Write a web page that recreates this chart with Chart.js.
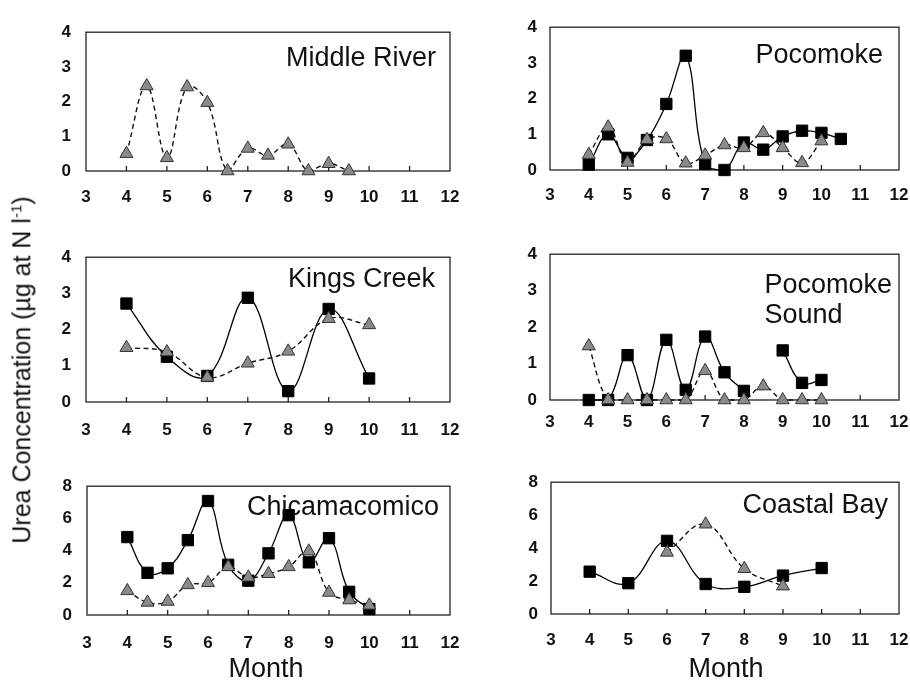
<!DOCTYPE html>
<html>
<head>
<meta charset="utf-8">
<script src="https://cdn.jsdelivr.net/npm/chart.js@4.4.0/dist/chart.umd.min.js"></script>
<style>
  body { margin: 0; background: #fff; font-family: "Liberation Sans", Arial, sans-serif; }
  #page { position: relative; width: 910px; height: 681px; overflow: hidden; }
  canvas { position: absolute; }
  .ytitle {
    position: absolute; left: 22px; top: 370px; white-space: nowrap;
    font-size: 25px; color: #111;
    transform: translate(-50%, -50%) rotate(-90deg);
  }
  .ytitle sup { font-size: 15px; }
  .month { position: absolute; font-size: 27px; color: #111; transform: translateX(-50%); top: 653px; }
</style>
</head>
<body>
<div id="page">
  <canvas id="middleRiver"></canvas>
  <canvas id="pocomoke"></canvas>
  <canvas id="kingsCreek"></canvas>
  <canvas id="pocomokeSound"></canvas>
  <canvas id="chicamacomico"></canvas>
  <canvas id="coastalBay"></canvas>
  <div class="ytitle">Urea Concentration (µg at N l<sup>-1</sup>)</div>
  <div class="month" style="left:266px">Month</div>
  <div class="month" style="left:726px">Month</div>
</div>
<script>
// months sampled (half-month steps)
var halfMonths = [4, 4.5, 5, 5.5, 6, 6.5, 7, 7.5, 8, 8.5, 9, 9.5, 10, 10.5];
var wholeMonths = [4, 5, 6, 7, 8, 9, 10];
var monthTicks = [3, 4, 5, 6, 7, 8, 9, 10, 11, 12];

// urea, square series (solid) and triangle series (dashed)
var middleRiverTri = [0.5, 2.45, 0.38, 2.42, 1.97, 0, 0.65, 0.45, 0.77, 0, 0.21, 0];

var pocomokeSq = [0.15, 1.0, 0.34, 0.84, 1.85, 3.2, 0.17, 0, 0.77, 0.57, 0.94, 1.1, 1.04, 0.87];
var pocomokeTri = [0.43, 1.2, 0.21, 0.85, 0.87, 0.19, 0.41, 0.7, 0.62, 1.04, 0.62, 0.2, 0.81];

var kingsCreekSq = [2.72, 1.25, 0.72, 2.88, 0.3, 2.57, 0.65];
var kingsCreekTri = [1.5, 1.38, 0.68, 1.07, 1.4, 2.3, 2.13];

var pocomokeSoundSq = [0, 0, 1.23, 0, 1.65, 0.28, 1.74, 0.76, 0.25, null, 1.36, 0.47, 0.55];
var pocomokeSoundTri = [1.48, 0, 0, 0, 0, 0, 0.8, 0, 0, 0.38, 0, 0, 0];

var chicamacomicoSq = [4.84, 2.62, 2.9, 4.65, 7.08, 3.12, 2.13, 3.83, 6.2, 3.27, 4.77, 1.44, 0.37];
var chicamacomicoTri = [1.5, 0.78, 0.84, 1.87, 2.0, 2.99, 2.34, 2.56, 2.99, 3.96, 1.4, 0.93, 0.6];

var coastalBaySq = [2.57, 1.87, 4.44, 1.82, 1.65, 2.33, 2.79];
var coastalBayTriMonths = [6, 7, 8, 9];
var coastalBayTri = [3.74, 5.45, 2.75, 1.69];

var FONT = '"Liberation Sans", Arial, sans-serif';

function pts(xs, ys) {
  return ys.map(function (y, i) { return {x: xs[i], y: y}; });
}

function squares(data) {
  return {
    data: data, borderColor: '#000', borderWidth: 1.3, tension: 0.4, clip: false,
    pointStyle: 'rect', pointRadius: 8, pointBackgroundColor: '#000',
    pointBorderColor: '#000', pointBorderWidth: 1, spanGaps: false
  };
}
function triangles(data) {
  return {
    data: data, borderColor: '#111', borderWidth: 1.4, borderDash: [5, 3.5], tension: 0.4, clip: false,
    pointStyle: 'triangle', pointRadius: 7.5, pointBackgroundColor: '#8a8a8a',
    pointBorderColor: '#333', pointBorderWidth: 1
  };
}

// frame, inward month ticks and station name
var panelDecor = {
  id: 'panelDecor',
  beforeDatasetsDraw: function (chart, args, opts) {
    var ctx = chart.ctx, a = chart.chartArea, x = chart.scales.x;
    ctx.save();
    ctx.strokeStyle = '#222';
    ctx.lineWidth = 1.3;
    ctx.strokeRect(a.left, a.top, a.right - a.left, a.bottom - a.top);
    for (var m = 4; m <= 11; m++) {
      var px = x.getPixelForValue(m);
      ctx.beginPath();
      ctx.moveTo(px, a.bottom);
      ctx.lineTo(px, a.bottom - 5);
      ctx.stroke();
    }
    ctx.fillStyle = '#111';
    ctx.font = '27px ' + FONT;
    ctx.textAlign = 'left';
    ctx.textBaseline = 'alphabetic';
    var lines = opts.name.split('\n');
    var w = Math.max.apply(null, lines.map(function (l) { return ctx.measureText(l).width; }));
    lines.forEach(function (l, i) {
      ctx.fillText(l, a.right - opts.right - w, a.top + opts.base + i * 30);
    });
    ctx.restore();
  }
};

function panel(id, area, ymax, ystep, datasets, name, nameRight, nameBase, xPad, yPad) {
  // right padding leaves room for the overhanging "12" label
  var YW = 60, XH = 40, PT = 10, PR = 34;
  var cv = document.getElementById(id);
  cv.style.left = (area[0] - YW) + 'px';
  cv.style.top = (area[1] - PT) + 'px';
  cv.width = area[2] - area[0] + YW + PR;
  cv.height = area[3] - area[1] + PT + XH;
  new Chart(cv, {
    type: 'line',
    data: {datasets: datasets},
    plugins: [panelDecor],
    options: {
      responsive: false,
      animation: false,
      layout: {padding: {left: 0, top: PT, right: PR, bottom: 0}},
      plugins: {
        legend: {display: false},
        tooltip: {enabled: false},
        panelDecor: {name: name, right: nameRight, base: nameBase}
      },
      scales: {
        x: {
          type: 'linear', min: 3, max: 12,
          afterFit: function (s) { s.height = XH; },
          afterBuildTicks: function (s) { s.ticks = monthTicks.map(function (v) { return {value: v}; }); },
          border: {display: false},
          grid: {display: false, drawTicks: false},
          ticks: {color: '#111', padding: xPad, maxRotation: 0, autoSkip: false,
                  font: {family: FONT, size: 17, weight: 'bold'}}
        },
        y: {
          min: 0, max: ymax,
          afterFit: function (s) { s.width = YW; },
          border: {display: false},
          grid: {display: false, drawTicks: false},
          ticks: {stepSize: ystep, color: '#111', padding: yPad,
                  font: {family: FONT, size: 17, weight: 'bold'}}
        }
      }
    }
  });
}

panel('middleRiver', [86, 17, 450, 171], 4, 1,
  [triangles(pts(halfMonths, middleRiverTri))],
  'Middle River', 14, 34, 16, 15);

panel('pocomoke', [550, 14, 899, 170], 4, 1,
  [triangles(pts(halfMonths, pocomokeTri)), squares(pts(halfMonths, pocomokeSq))],
  'Pocomoke', 16, 36, 15, 13);

panel('kingsCreek', [86, 242, 450, 402], 4, 1,
  [triangles(pts(wholeMonths, kingsCreekTri)), squares(pts(wholeMonths, kingsCreekSq))],
  'Kings Creek', 15, 30, 18, 15);

panel('pocomokeSound', [550, 241, 899, 400], 4, 1,
  [triangles(pts(halfMonths, pocomokeSoundTri)), squares(pts(halfMonths, pocomokeSoundSq))],
  'Pocomoke\nSound', 7, 39, 12, 13);

panel('chicamacomico', [87, 471, 450, 615], 8, 2,
  [triangles(pts(halfMonths, chicamacomicoTri)), squares(pts(halfMonths, chicamacomicoSq))],
  'Chicamacomico', 11, 29, 18, 15);

panel('coastalBay', [551, 469, 899, 614], 8, 2,
  [triangles(pts(coastalBayTriMonths, coastalBayTri)), squares(pts(wholeMonths, coastalBaySq))],
  'Coastal Bay', 11, 31, 16, 13);
</script>
</body>
</html>
